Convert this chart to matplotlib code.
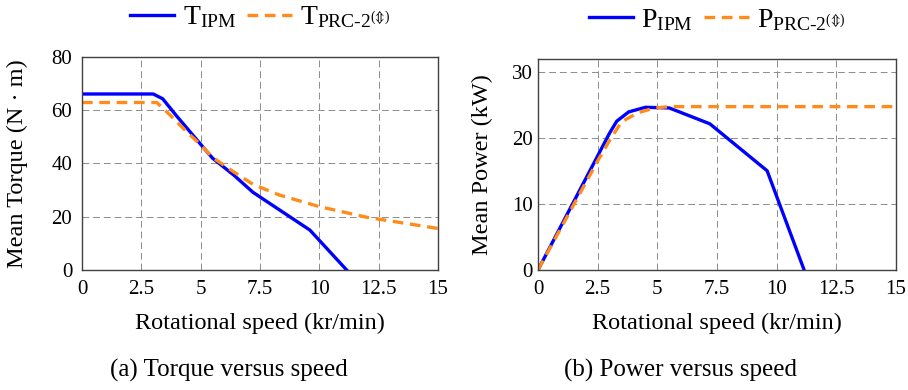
import matplotlib
matplotlib.use('Agg')
import matplotlib.pyplot as plt

# speed in kr/min, torque in N*m, power in kW
speed_t_ipm = [0, 3.0, 3.4, 4.0, 5.0, 5.5, 6.4, 7.2, 9.6, 11.15]
torque_ipm = [66.1, 66.1, 64.3, 57.7, 47.2, 42.0, 35.6, 29.2, 15.0, 0]

speed_t_prc = [0, 3.15, 3.7, 4.4, 5.0, 5.5, 6.4, 7.2, 8.3, 10, 12, 15]
torque_prc = [62.9, 62.9, 58.3, 52.0, 47.0, 42.3, 36.8, 32.2, 28.2, 23.8, 19.8, 15.6]

speed_p_ipm = [0, 3.0, 3.3, 3.8, 4.5, 5.5, 7.2, 9.6, 11.15]
power_ipm = [0, 20.7, 22.5, 23.9, 24.6, 24.5, 22.1, 15.0, 0]

speed_p_prc = [0, 1.5, 2.5, 3.0, 3.5, 4.2, 4.9, 5.5, 15]
power_prc = [0, 9.9, 16.5, 19.6, 22.4, 23.8, 24.5, 24.7, 24.7]

x_ticks = [0, 2.5, 5, 7.5, 10, 12.5, 15]
x_tick_labels = ['0', '2.5', '5', '7.5', '10', '12.5', '15']

plt.rcParams['font.family'] = ['Liberation Serif', 'DejaVu Serif']
plt.rcParams['mathtext.fontset'] = 'custom'
plt.rcParams['mathtext.rm'] = 'Liberation Serif'
plt.rcParams['mathtext.it'] = 'Liberation Serif:italic'
plt.rcParams['mathtext.fallback'] = 'stix'

BLUE = '#0000FF'
ORANGE = '#FF8C1A'

fig = plt.figure(figsize=(9.08, 3.9), dpi=100)
ax1 = fig.add_axes([0.0903, 0.3077, 0.3921, 0.5462])
ax2 = fig.add_axes([0.5925, 0.3077, 0.3943, 0.5410])


def style_axes(ax, ylim, yticks, ypad):
    ax.set_xlim(0, 15)
    ax.set_ylim(*ylim)
    ax.set_xticks(x_ticks)
    ax.set_xticklabels(x_tick_labels)
    ax.set_yticks(yticks)
    ax.grid(True, color='#8c8c8c', lw=0.7, linestyle=(0, (7, 4)))
    ax.set_axisbelow(True)
    for s in ax.spines.values():
        s.set_color('#404040')
        s.set_linewidth(1.0)
    ax.tick_params(direction='in', length=0, labelsize=15)
    ax.tick_params(axis='x', pad=7)
    ax.tick_params(axis='y', pad=ypad)
    ax.set_xlabel('Rotational speed (kr/min)', fontsize=17.5)
    ax.xaxis.set_label_coords(0.5, -0.203)


ax1.plot(speed_t_ipm, torque_ipm, color=BLUE, lw=2.4, label=r'T$_{\mathrm{IPM}}$')
ax1.plot(speed_t_prc, torque_prc, color=ORANGE, lw=2.4, linestyle=(0, (3.2, 2)),
         label=r'T$_{\mathrm{PRC}\text{-}\mathrm{2}^{(⇕)}}$')
style_axes(ax1, (0, 80), [0, 20, 40, 60, 80], 7)
ax1.set_ylabel('Mean Torque (N · m)', fontsize=17.5)
ax1.yaxis.set_label_coords(-0.152, 0.5)

ax2.plot(speed_p_ipm, power_ipm, color=BLUE, lw=2.4, label=r'P$_{\mathrm{IPM}}$')
ax2.plot(speed_p_prc, power_prc, color=ORANGE, lw=2.4, linestyle=(0, (3.2, 2)),
         label=r'P$_{\mathrm{PRC}\text{-}\mathrm{2}^{(⇕)}}$')
style_axes(ax2, (0, 31.9), [0, 10, 20, 30], 4)
ax2.set_ylabel('Mean Power (kW)', fontsize=17.5)
ax2.yaxis.set_label_coords(-0.126, 0.5)

for ax in (ax1, ax2):
    ax.legend(loc='center', bbox_to_anchor=(0.5, 1.185), ncol=2, frameon=False,
              fontsize=20, handlelength=1.6, handletextpad=0.3, columnspacing=0.4,
              borderaxespad=0)

fig.text(0.252, 0.051, '(a) Torque versus speed', ha='center', va='center', fontsize=18)
fig.text(0.75, 0.051, '(b) Power versus speed', ha='center', va='center', fontsize=18)

fig.savefig('out.png', dpi=100)
